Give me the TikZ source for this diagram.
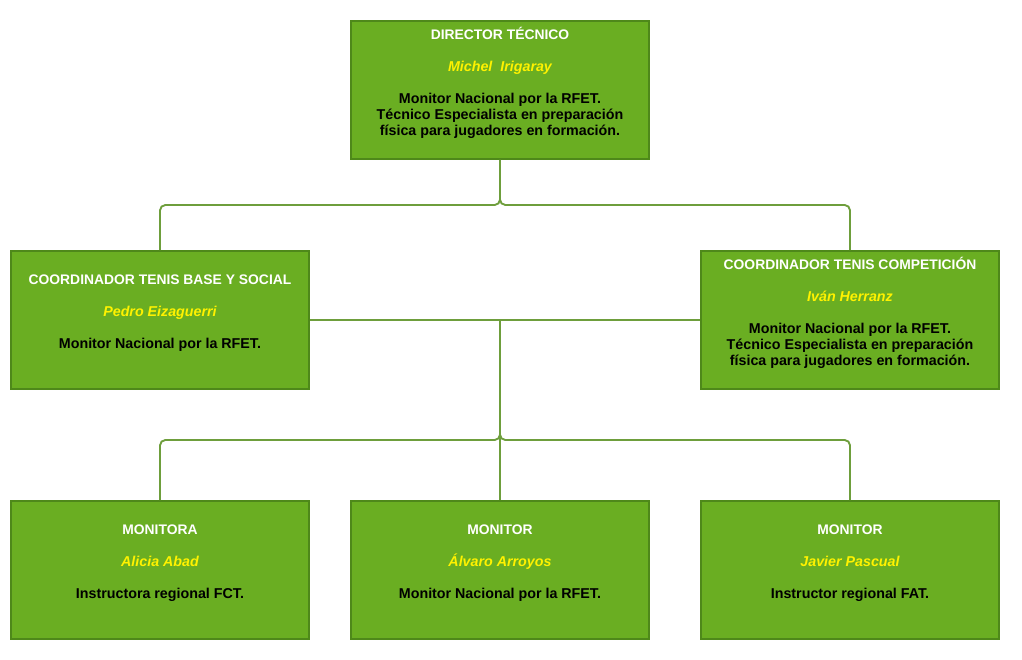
\documentclass[tikz,border=0pt]{standalone}
\usepackage{fontspec}
\setmainfont{Liberation Sans}
\usepackage{tikz}
\usetikzlibrary{positioning, calc}

\definecolor{cardfill}{RGB}{106,174,34}
\definecolor{cardline}{RGB}{78,136,26}
\definecolor{linkline}{RGB}{110,158,60}

\tikzset{
    card/.style={draw=cardline, fill=cardfill, line width=1.5pt,
        minimum width=223.5pt, minimum height=103.5pt, inner sep=0pt},
    cardtext/.style={align=center, font=\fontsize{10.7}{12}\selectfont\bfseries,
        text=black, inner sep=0pt},
    link/.style={draw=linkline, line width=1.4pt, rounded corners=4pt},
}

\newcommand{\cardtitle}[1]{{\fontsize{10.4}{12}\selectfont\textcolor{white}{#1}}}
\newcommand{\cardname}[1]{\textcolor{yellow}{\itshape #1}}

\begin{document}
\begin{tikzpicture}[x=0.75pt, y=-0.75pt]
    \useasboundingbox (0,0) rectangle (1022,660);

    % boxes
    \foreach \id/\cx/\cy/\title/\person/\body in {
        dir/500/90/{DIRECTOR TÉCNICO}/{Michel\ \ Irigaray}/{Monitor Nacional por la RFET.\\Técnico Especialista en preparación\\física para jugadores en formación.},
        base/160/320/{COORDINADOR TENIS BASE Y SOCIAL}/{Pedro Eizaguerri}/{Monitor Nacional por la RFET.},
        comp/850/320/{COORDINADOR TENIS COMPETICIÓN}/{Iván Herranz}/{Monitor Nacional por la RFET.\\Técnico Especialista en preparación\\física para jugadores en formación.},
        mona/160/570/{MONITORA}/{Alicia Abad}/{Instructora regional FCT.},
        monb/500/570/{MONITOR}/{Álvaro Arroyos}/{Monitor Nacional por la RFET.},
        monc/850/570/{MONITOR}/{Javier Pascual}/{Instructor regional FAT.}}{

        \node[card] (\id) at (\cx,\cy) {};
        \node[cardtext, yshift=5pt] (\id-text) at (\id.center)
            {\cardtitle{\title}\\[12pt]\cardname{\person}\\[12pt]\body};
    }

    % junctions
    \coordinate (jtop) at (500,205);
    \coordinate (jmid) at (500,320);
    \coordinate (jbot) at (500,440);

    % director to coordinators
    \draw[link] (dir.south) -- (jtop) -| (base.north);
    \draw[link] (dir.south) -- (jtop) -| (comp.north);

    % coordinators to monitors
    \draw[link] (base.east) -- (comp.west);
    \draw[link] (jmid) -- (jbot) -| (mona.north);
    \draw[link] (jmid) -- (jbot) -| (monc.north);
    \draw[link] (jmid) -- (monb.north);
\end{tikzpicture}
\end{document}
